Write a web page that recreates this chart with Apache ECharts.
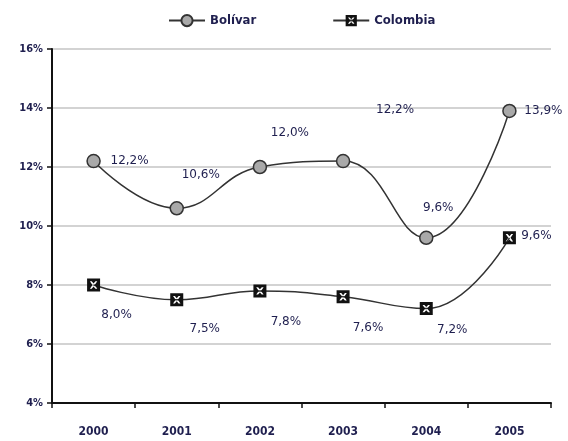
<!DOCTYPE html>
<html>
<head>
<meta charset="utf-8">
<script src="https://cdn.jsdelivr.net/npm/echarts@6/dist/echarts.min.js"></script>
<style>
  html, body { margin: 0; padding: 0; background: #fff; }
  #chart { width: 568px; height: 441px; }
</style>
</head>
<body>
<div id="chart"></div>
<script>
// datos
const years = ['2000', '2001', '2002', '2003', '2004', '2005'];
const bolivar = [12.2, 10.6, 12.0, 12.2, 9.6, 13.9];
const colombia = [8.0, 7.5, 7.8, 7.6, 7.2, 9.6];

// etiquetas desplazadas como en el original
const bolOffsets = [[36, 0], [24, -33], [30, -34], [52, -51], [12, -30], [34, 0]];
const colOffsets = [[23, 30], [28, 29], [26, 31], [25, 31], [26, 21], [27, -2]];

const txt = '#1f1f4f';
const fontAx = 'DejaVu Sans Condensed';

// cuadrado negro con una X blanca (hueco por sentido contrario)
const boxX = 'path://M0,0 L14,0 L14,14 L0,14 Z ' +
  'M3,3 L5.8,7 L3,11 L5,11 L7,8.7 L9,11 L11,11 L8.2,7 L11,3 L9,3 L7,5.3 L5,3 Z';

function fmt(v) {
  return v.toFixed(1).replace('.', ',') + '%';
}

function withLabels(vals, offs) {
  return vals.map((v, i) => ({
    value: v,
    label: { offset: offs[i] }
  }));
}

let myChart = echarts.init(document.getElementById('chart'));
myChart.setOption({
  animation: false,
  legend: {
    top: 9,
    left: 163,
    itemGap: 76,
    itemWidth: 36,
    itemHeight: 14,
    textStyle: { color: txt, fontFamily: fontAx, fontWeight: 'bold', fontSize: 13 },
    data: ['Bolívar', 'Colombia']
  },
  grid: { left: 52, right: 17, top: 49, bottom: 38 },
  xAxis: {
    type: 'category',
    data: years,
    boundaryGap: true,
    axisLine: { lineStyle: { color: '#111', width: 2 } },
    axisTick: { show: true, length: 5, lineStyle: { color: '#111', width: 1.5 } },
    axisLabel: { color: txt, fontFamily: fontAx, fontWeight: 'bold', fontSize: 12, margin: 23 }
  },
  yAxis: {
    type: 'value',
    min: 4,
    max: 16,
    interval: 2,
    axisLine: { show: true, lineStyle: { color: '#111', width: 2 } },
    axisTick: { show: true, length: 5, lineStyle: { color: '#111', width: 1.5 } },
    axisLabel: { color: txt, fontFamily: fontAx, fontWeight: 'bold', fontSize: 11, margin: 9, formatter: '{value}%' },
    splitLine: { lineStyle: { color: '#c4c4c4', width: 1.5 } }
  },
  series: [
    {
      name: 'Bolívar',
      type: 'line',
      smooth: 0.45,
      data: withLabels(bolivar, bolOffsets),
      symbol: 'circle',
      symbolSize: 13,
      lineStyle: { color: '#333', width: 1.5 },
      itemStyle: { color: '#a9a9a9', borderColor: '#333', borderWidth: 1.5 },
      label: {
        show: true,
        position: 'inside',
        color: txt,
        fontFamily: 'DejaVu Sans',
        fontSize: 12,
        formatter: p => fmt(p.value)
      }
    },
    {
      name: 'Colombia',
      type: 'line',
      smooth: 0.45,
      data: withLabels(colombia, colOffsets),
      symbol: boxX,
      symbolSize: 13,
      lineStyle: { color: '#333', width: 1.5 },
      itemStyle: { color: '#111' },
      label: {
        show: true,
        position: 'inside',
        color: txt,
        fontFamily: 'DejaVu Sans',
        fontSize: 12,
        formatter: p => fmt(p.value)
      }
    }
  ]
});
</script>
</body>
</html>
